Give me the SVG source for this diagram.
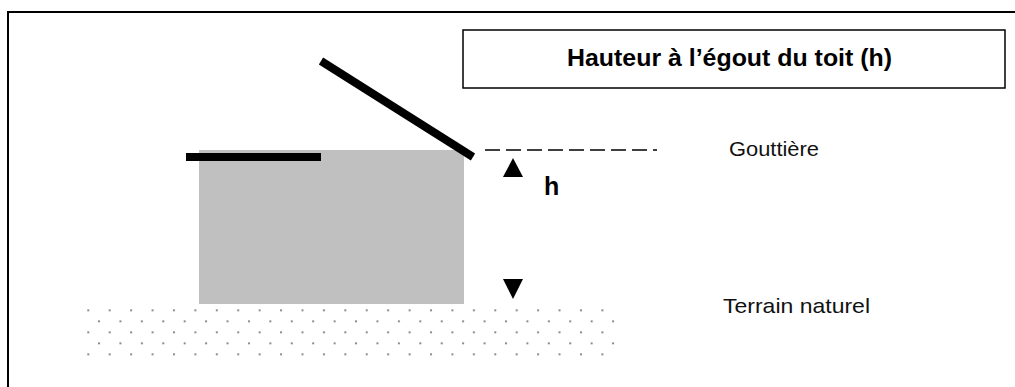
<svg xmlns="http://www.w3.org/2000/svg" width="1015" height="387" viewBox="0 0 1015 387">
  <style>
    .lbl { font-family: "Liberation Sans", Arial, sans-serif; font-size: 21px; fill: #111; }
    .title { font-family: "Liberation Sans", Arial, sans-serif; font-size: 23px; font-weight: bold; fill: #000; }
    .h { font-family: "Liberation Sans", Arial, sans-serif; font-size: 25px; font-weight: bold; fill: #000; }
    .bar { stroke: #000; stroke-width: 8; stroke-linecap: butt; fill: none; }
  </style>
  <defs>
    <pattern id="dots" patternUnits="userSpaceOnUse" x="87.3" y="309.5" width="21.42" height="22">
      <rect x="0" y="0" width="2" height="1.5" fill="#666"/>
      <rect x="10.71" y="11" width="2" height="1.5" fill="#666"/>
    </pattern>
  </defs>
  <rect x="0" y="0" width="1015" height="387" fill="#fff"/>
  <rect id="frame" x="8" y="12" width="1030" height="400" fill="none" stroke="#000" stroke-width="2"/>

  <g id="title">
    <rect x="463" y="30" width="542" height="58" fill="#fff" stroke="#000" stroke-width="1.5"/>
    <text class="title" x="567" y="66" textLength="325" lengthAdjust="spacingAndGlyphs">Hauteur à l’égout du toit (h)</text>
  </g>

  <g id="ground">
    <rect x="86" y="308" width="530" height="50" fill="url(#dots)"/>
  </g>

  <g id="building">
    <rect x="199" y="150" width="265" height="154" fill="#c0c0c0"/>
    <line class="bar" x1="186" y1="157" x2="321" y2="157"/>
    <line class="bar" x1="321" y1="61" x2="473" y2="157"/>
  </g>

  <g id="connectors">
    <line x1="485" y1="150" x2="657" y2="150" stroke="#000" stroke-width="1.6" stroke-dasharray="15 6"/>
    <polygon points="513,158 523,177 503,177" fill="#000"/>
    <polygon points="503,279 523,279 513,299" fill="#000"/>
  </g>

  <g id="labels">
    <text class="h" x="544" y="195">h</text>
    <text class="lbl" x="729" y="156" textLength="90" lengthAdjust="spacingAndGlyphs">Gouttière</text>
    <text class="lbl" x="723" y="313" textLength="147" lengthAdjust="spacingAndGlyphs">Terrain naturel</text>
  </g>
</svg>
